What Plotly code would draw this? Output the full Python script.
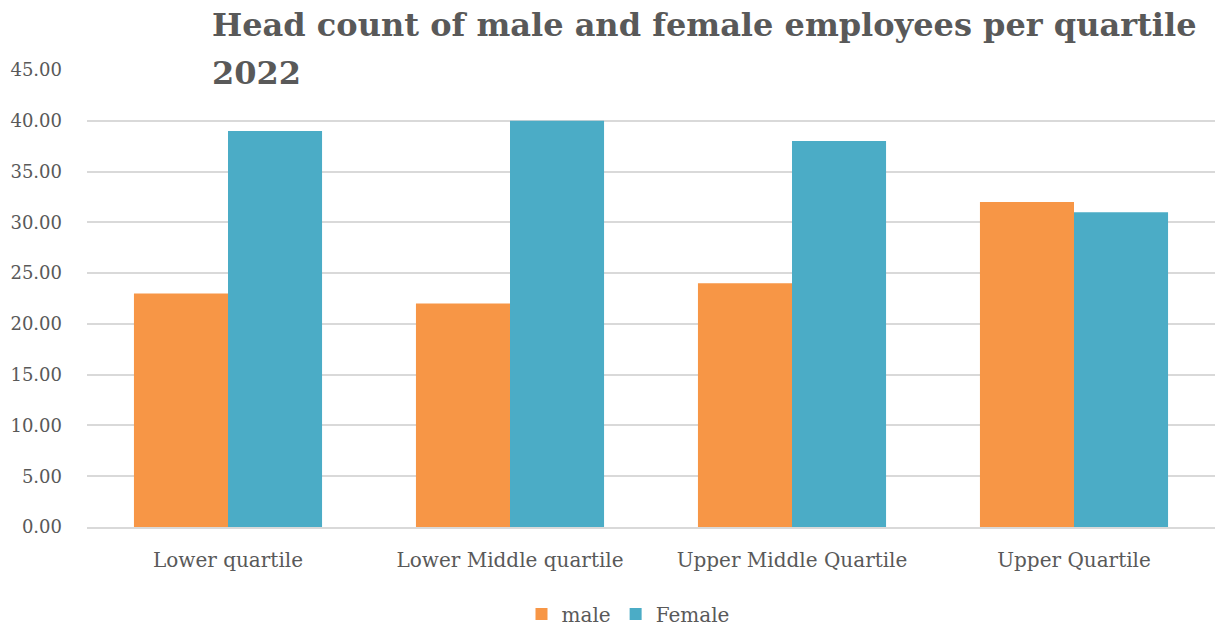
import plotly.graph_objects as go

categories = ["Lower quartile", "Lower Middle quartile", "Upper Middle Quartile", "Upper Quartile"]
male = [23, 22, 24, 32]
female = [39, 40, 38, 31]
y_ticks = [0, 5, 10, 15, 20, 25, 30, 35, 40, 45]
title_lines = ["Head count of male and female employees per quartile", "2022"]

FONT = "DejaVu Serif"
TEXT_GREY = "#595959"
GRID = "#d9d9d9"

W, H = 1225, 628
M_L, M_R, M_T, M_B = 87, 10, 70, 101
PLOT_W = W - M_L - M_R
PLOT_H = H - M_T - M_B

fig = go.Figure()
fig.add_trace(go.Bar(name="male", x=categories, y=male, marker=dict(color="#F79646", line=dict(width=0))))
fig.add_trace(go.Bar(name="Female", x=categories, y=female, marker=dict(color="#4BACC6", line=dict(width=0))))

# two-line bold title, placed by pixel offsets from the plot area
for line, y_px in zip(title_lines, [25, 73]):
    fig.add_annotation(
        text=f"<b>{line}</b>",
        xref="paper", yref="paper",
        x=(210 - M_L) / PLOT_W,
        y=1 + (M_T - y_px) / PLOT_H,
        xanchor="left", yanchor="middle",
        showarrow=False,
        font=dict(family=FONT, size=32, color=TEXT_GREY),
    )

fig.update_layout(
    width=W,
    height=H,
    margin=dict(l=M_L, r=M_R, t=M_T, b=M_B, autoexpand=False),
    paper_bgcolor="white",
    plot_bgcolor="white",
    barmode="group",
    bargap=0.333,
    bargroupgap=0,
    font=dict(family=FONT, size=20, color=TEXT_GREY),
    legend=dict(
        orientation="h",
        x=(628 - M_L) / PLOT_W,
        xanchor="center",
        y=(PLOT_H + M_T - 614) / PLOT_H,
        yanchor="middle",
        font=dict(family=FONT, size=20, color=TEXT_GREY),
        itemwidth=30,
    ),
    xaxis=dict(
        showgrid=False,
        showline=True,
        linecolor=GRID,
        linewidth=1.5,
        ticks="",
        ticklabelstandoff=14,
        tickfont=dict(family=FONT, size=20, color=TEXT_GREY),
    ),
    yaxis=dict(
        range=[0, 45],
        tickvals=y_ticks,
        tickformat=".2f",
        showgrid=True,
        gridcolor=GRID,
        gridwidth=1.5,
        zeroline=False,
        showline=False,
        ticks="",
        ticklabelstandoff=24,
        tickfont=dict(family=FONT, size=18, color=TEXT_GREY),
    ),
)

fig.write_html("out.html")
